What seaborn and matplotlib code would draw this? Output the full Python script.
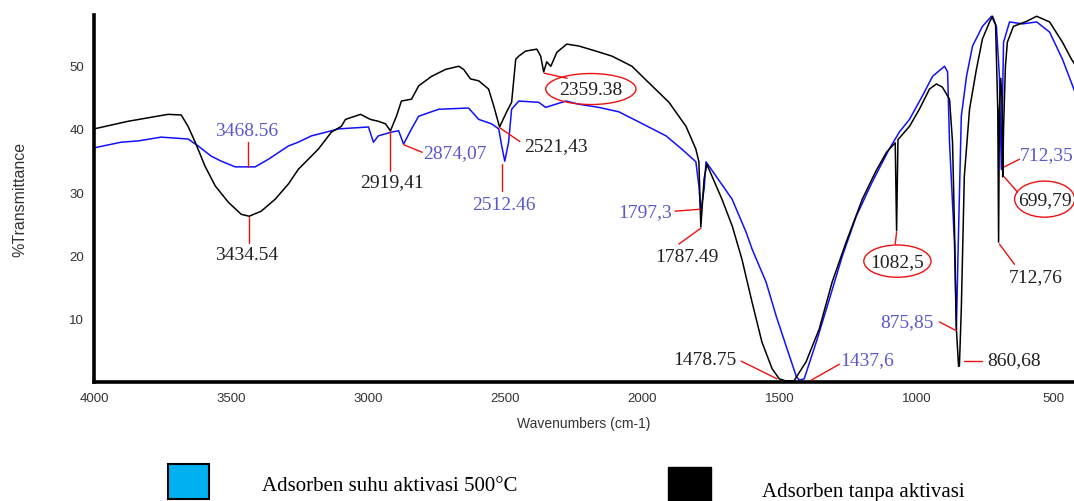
import numpy as np
import pandas as pd
import matplotlib
matplotlib.use("Agg")
import matplotlib.pyplot as plt
from matplotlib.patches import Ellipse, Rectangle
import seaborn as sns

# ---------------- data ----------------
black_wn = [4000, 3876, 3730, 3682, 3657, 3631, 3595, 3558, 3510, 3463,
            3434, 3390, 3339, 3291, 3255, 3182, 3134, 3098, 3083, 3028,
            2992, 2963, 2937, 2919, 2897, 2879, 2842, 2816, 2769, 2718,
            2670, 2652, 2627, 2597, 2561, 2542, 2521, 2495, 2477, 2462,
            2451, 2426, 2385, 2371, 2360, 2349, 2334, 2312, 2276, 2232,
            2170, 2111, 2038, 1965, 1903, 1841, 1805, 1794, 1787, 1775,
            1765, 1710, 1672, 1637, 1600, 1564, 1527, 1501, 1479, 1447,
            1403, 1355, 1308, 1257, 1198, 1150, 1110, 1078, 1073, 1068,
            1026, 990, 953, 928, 906, 880, 869, 862, 855, 847,
            844, 837, 826, 807, 782, 760, 734, 723, 712, 704,
            701, 698, 693, 689, 686, 683, 676, 669, 647, 599,
            562, 515, 468, 435, 420]
black_t = [40.0, 41.2, 42.3, 42.2, 40.4, 37.9, 34.1, 31.0, 28.4, 26.5,
           26.2, 27.0, 28.9, 31.3, 33.6, 36.8, 39.5, 40.4, 41.5, 42.3,
           41.5, 41.2, 40.8, 39.7, 42.0, 44.4, 44.7, 46.8, 48.3, 49.4,
           49.9, 49.4, 47.9, 47.6, 46.3, 43.6, 40.3, 42.7, 44.2, 51.0,
           51.5, 52.3, 52.6, 51.5, 49.0, 50.6, 49.9, 52.1, 53.4, 53.1,
           52.3, 51.5, 49.9, 46.8, 44.2, 40.4, 36.8, 34.8, 24.5, 32.1,
           34.4, 28.9, 24.6, 19.4, 12.6, 6.3, 2.1, 0.5, 0.2, 0.2,
           3.2, 8.4, 15.8, 22.1, 28.9, 33.2, 36.3, 37.8, 23.9, 38.3,
           40.4, 43.1, 46.3, 47.1, 46.6, 44.7, 37.9, 24.6, 8.4, 2.5,
           2.5, 11.5, 32.5, 43.1, 49.4, 54.2, 56.9, 57.8, 56.5, 43.0,
           22.1, 43.0, 48.0, 45.0, 32.4, 40.0, 50.0, 53.7, 56.2, 57.0,
           57.8, 56.9, 53.7, 51.0, 50.0]

blue_wn = [4000, 3901, 3839, 3755, 3657, 3620, 3573, 3536, 3485, 3412,
           3364, 3291, 3255, 3207, 3134, 3109, 2999, 2981, 2963, 2915,
           2889, 2871, 2842, 2816, 2743, 2634, 2597, 2550, 2524, 2513,
           2502, 2488, 2477, 2451, 2378, 2353, 2279, 2232, 2159, 2086,
           2013, 1914, 1856, 1805, 1794, 1787, 1775, 1768, 1731, 1673,
           1622, 1600, 1549, 1512, 1476, 1439, 1428, 1410, 1366, 1318,
           1271, 1220, 1162, 1100, 1063, 1026, 979, 942, 898, 887,
           880, 862, 855, 848, 837, 818, 796, 760, 727, 709,
           698, 691, 683, 661, 614, 562, 515, 468, 431, 420]
blue_t = [37.0, 37.9, 38.1, 38.7, 38.4, 37.3, 35.7, 34.9, 34.0, 34.0,
          35.2, 37.3, 37.9, 38.9, 39.7, 40.0, 40.3, 37.9, 38.9, 39.5,
          39.7, 37.6, 40.0, 42.0, 43.1, 43.3, 41.5, 40.8, 40.0, 37.3,
          34.9, 37.9, 43.1, 44.4, 44.2, 43.4, 44.4, 43.9, 43.4, 42.7,
          41.1, 38.9, 36.8, 34.8, 31.0, 27.0, 30.5, 34.8, 32.5, 28.9,
          23.7, 21.0, 15.8, 10.4, 5.7, 0.9, 0.3, 0.5, 6.3, 13.1,
          19.9, 26.2, 31.6, 36.8, 39.5, 41.5, 45.2, 48.3, 49.9, 49.0,
          37.9, 22.1, 8.4, 22.1, 42.0, 48.3, 53.1, 56.2, 57.8, 56.2,
          48.3, 33.6, 53.7, 56.9, 56.6, 56.9, 55.3, 51.0, 46.8, 45.5]

assert len(black_wn) == len(black_t)
assert len(blue_wn) == len(blue_t)

series_names = ["Adsorben suhu aktivasi 500°C", "Adsorben tanpa aktivasi"]
x_ticks = [4000, 3500, 3000, 2500, 2000, 1500, 1000, 500]
y_ticks = [10, 20, 30, 40, 50]

# peak labels: text, series(0=blue,1=black), text position, leader line, ellipse (w,h) or None
peak_text = ["3468.56", "3434.54", "2919,41", "2874,07", "2512.46", "2521,43",
             "2359.38", "1797,3", "1787.49", "1478.75", "1437,6", "1082,5",
             "875,85", "860,68", "712,76", "712,35", "699,79"]
peak_series = [0, 1, 1, 0, 0, 1, 1, 0, 1, 1, 0, 1, 0, 1, 1, 0, 1]
peak_text_pos = [(3445, 39.8), (3445, 20.1), (2915, 31.6), (2798, 36.2),
                 (2506, 28.0), (2433, 37.3), (2188, 46.3), (1991, 26.9),
                 (1837, 19.9), (1772, 3.5), (1180, 3.5), (1070, 19.1),
                 (1034, 9.5), (643, 3.5), (566, 16.6), (526, 36.0), (533, 28.9)]
peak_ha = ["center", "center", "center", "left", "center", "left",
           "center", "center", "center", "center", "center", "center",
           "center", "center", "center", "center", "center"]
peak_lines = [((3437, 37.9), (3437, 34.0)), ((3434, 26.0), (3434, 22.0)),
              ((2919, 39.6), (2919, 33.4)), ((2871, 37.5), (2803, 36.3)),
              ((2513, 34.5), (2513, 30.2)), ((2521, 40.2), (2447, 38.0)),
              ((2358, 48.8), (2275, 48.0)), ((1881, 27.0), (1790, 27.3)),
              ((1787, 24.3), (1867, 21.8)), ((1640, 3.3), (1509, 0.5)),
              ((1384, 0.3), (1282, 2.8)), ((1073, 23.7), (1078, 21.8)),
              ((917, 9.5), (855, 8.1)), ((826, 3.3), (763, 3.3)),
              ((698, 21.8), (643, 18.6)), ((680, 34.0), (625, 35.2)),
              ((680, 32.4), (632, 30.0))]
peak_ellipse = [None, None, None, None, None, None, (329, 4.9), None, None,
                None, None, (245, 5.1), None, None, None, None, (219, 5.7)]

# ---------------- styling ----------------
sns.set_style("white")
plt.rcParams["font.family"] = ["Liberation Sans", "DejaVu Sans"]

LINE_BLUE = "#1010ff"
LINE_BLACK = "#000000"
TXT_BLUE = "#5858d0"
TXT_BLACK = "#202020"
RED = "#ee1111"

df = pd.concat([
    pd.DataFrame({"wn": blue_wn, "T": blue_t, "series": series_names[0]}),
    pd.DataFrame({"wn": black_wn, "T": black_t, "series": series_names[1]}),
], ignore_index=True)

fig = plt.figure(figsize=(10.74, 5.02), dpi=100)
ax = fig.add_axes([94 / 1074, (502 - 383) / 502, (1074 - 94) / 1074, (383 - 16) / 502])

sns.lineplot(data=df, x="wn", y="T", hue="series",
             palette={series_names[0]: LINE_BLUE, series_names[1]: LINE_BLACK},
             estimator=None, sort=False, linewidth=1.1, legend=False, ax=ax)

ax.set_xlim(4000, 426)
ax.set_ylim(0, 58)
ax.set_xticks(x_ticks)
ax.set_yticks(y_ticks)
ax.set_xticklabels([str(v) for v in x_ticks])
ax.set_yticklabels([str(v) for v in y_ticks])
for s in ["top", "right"]:
    ax.spines[s].set_visible(False)
for s in ["left", "bottom"]:
    ax.spines[s].set_linewidth(2.6)
    ax.spines[s].set_color("black")
ax.tick_params(axis="y", direction="out", length=5, width=1, color="black",
               pad=2, labelsize=9.5, labelcolor="#333333")
ax.tick_params(axis="x", direction="out", length=0, pad=7,
               labelsize=9.5, labelcolor="#333333")
ax.set_xlabel("Wavenumbers (cm-1)", fontsize=10, color="#333333", labelpad=9)
ax.set_ylabel("%Transmittance", fontsize=11.5, color="#333333")
ax.yaxis.set_label_coords(-0.068, 0.5)
ax.grid(False)

for txt, ser, (tx, ty), ha, line, ell in zip(peak_text, peak_series, peak_text_pos,
                                            peak_ha, peak_lines, peak_ellipse):
    (x1, y1), (x2, y2) = line
    ax.plot([x1, x2], [y1, y2], color=RED, lw=1.0, clip_on=False, zorder=4)
    ax.text(tx, ty, txt, color=TXT_BLUE if ser == 0 else TXT_BLACK,
            ha=ha, va="center", fontsize=14, family=["Liberation Serif", "DejaVu Serif"],
            clip_on=False, zorder=5)
    if ell is not None:
        ax.add_patch(Ellipse((tx, ty), ell[0], ell[1], fill=False,
                             edgecolor=RED, lw=1.0, clip_on=False, zorder=5))

# legend drawn below the chart
fig.add_artist(Rectangle((168 / 1074, 2 / 502), 41 / 1074, 35 / 502,
                         transform=fig.transFigure, facecolor="#00b0f0",
                         edgecolor="black", lw=1.5))
fig.add_artist(Rectangle((668 / 1074, -0.02), 43 / 1074, 34 / 502 + 0.02,
                         transform=fig.transFigure, facecolor="black",
                         edgecolor="black", lw=1.0))
fig.text(262 / 1074, (502 - 487) / 502, series_names[0], fontsize=15,
         family=["Liberation Serif", "DejaVu Serif"], va="center", ha="left", color="black")
fig.text(762 / 1074, (502 - 493) / 502, series_names[1], fontsize=15,
         family=["Liberation Serif", "DejaVu Serif"], va="center", ha="left", color="black")

fig.savefig("out.png", dpi=100)
